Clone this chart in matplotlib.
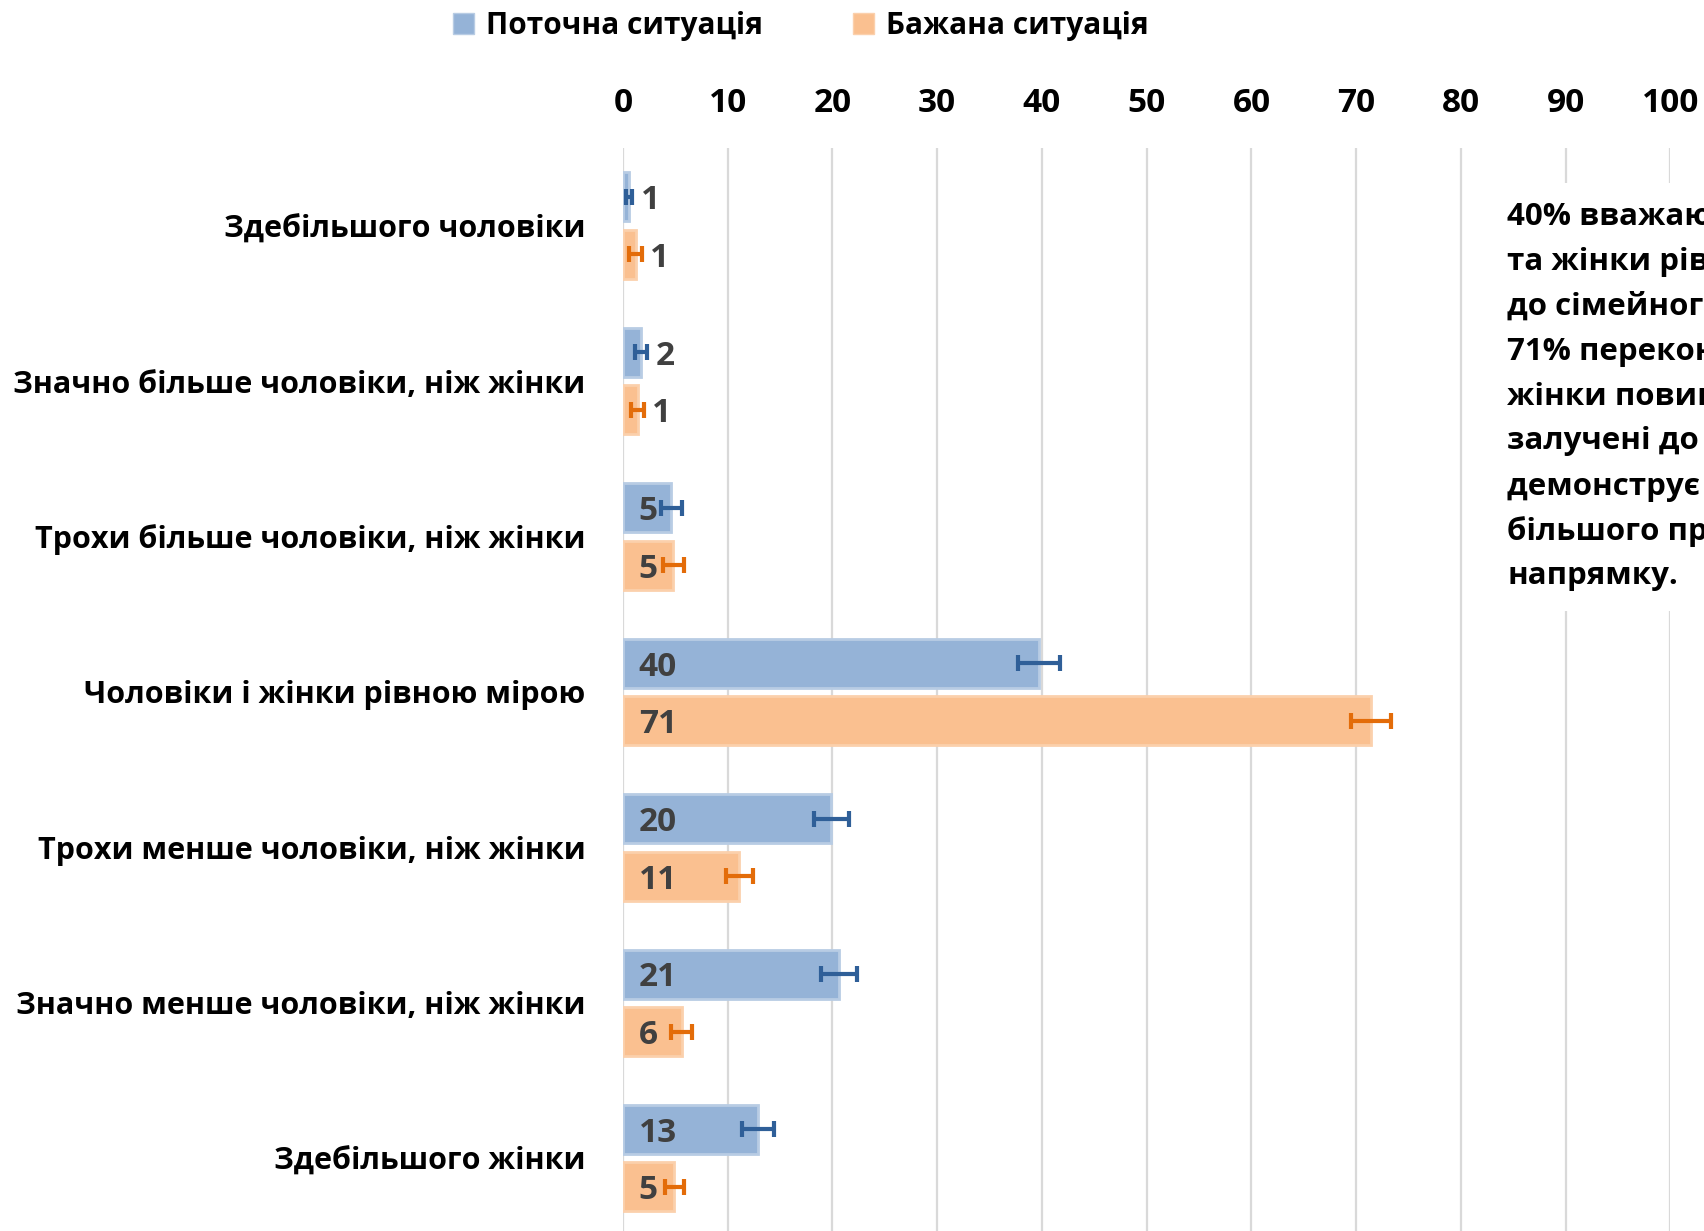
import numpy as np
import matplotlib.pyplot as plt
from matplotlib.patches import Patch, Rectangle

plt.rcParams['font.family'] = ['Open Sans', 'DejaVu Sans']
plt.rcParams['font.weight'] = 'bold'

# Дані
categories = ['Здебільшого чоловіки', 'Значно більше чоловіки, ніж жінки',
              'Трохи більше чоловіки, ніж жінки', 'Чоловіки і жінки рівною мірою',
              'Трохи менше чоловіки, ніж жінки', 'Значно менше чоловіки, ніж жінки',
              'Здебільшого жінки']
current = [0.6, 1.7, 4.6, 39.7, 19.9, 20.6, 12.9]
current_err = [0.3, 0.6, 1.0, 2.0, 1.7, 1.7, 1.5]
desired = [1.2, 1.4, 4.8, 71.4, 11.1, 5.6, 4.9]
desired_err = [0.6, 0.6, 1.0, 1.9, 1.3, 1.0, 0.9]
series_names = ['Поточна ситуація', 'Бажана ситуація']
note_lines = ['40% вважають, що чоловіки',
              'та жінки рівною мірою',
              'до сімейного бюджету,',
              '71% переконані, що',
              'жінки повинні бути',
              'залучені до нього, що',
              'демонструє потребу',
              'більшого прогресу',
              'напрямку.']

blue, blue_edge, blue_err = '#95B3D7', '#B8CCE4', '#2F5F98'
orange, orange_edge, orange_err = '#FAC090', '#FBD0AC', '#E36C09'

fig = plt.figure(figsize=(17.04, 12.31), dpi=100)
ax = fig.add_axes([0.3656, -0.004, 0.6147, 0.8838])

y = np.arange(len(categories))
h = 0.315
off = 0.185

ax.barh(y - off, current, height=h, color=blue, edgecolor=blue_edge, linewidth=2, zorder=2)
ax.barh(y + off, desired, height=h, color=orange, edgecolor=orange_edge, linewidth=2, zorder=2)
ax.errorbar(current, y - off, xerr=current_err, fmt='none', ecolor=blue_err,
            elinewidth=3, capsize=6, capthick=3, zorder=3)
ax.errorbar(desired, y + off, xerr=desired_err, fmt='none', ecolor=orange_err,
            elinewidth=3, capsize=6, capthick=3, zorder=3)

# підписи значень
for vals, errs, dy in [(current, current_err, -off), (desired, desired_err, off)]:
    for i, (v, e) in enumerate(zip(vals, errs)):
        x = 1.5 if v >= 3 else v + e + 0.8
        ax.text(x, i + dy + 0.025, f'{v:.0f}', ha='left', va='center', fontsize=24,
                fontweight='bold', color='#404040', zorder=4)

ax.set_xlim(0, 100)
ax.set_ylim(len(categories) - 0.5, -0.5)
ax.set_xticks(np.arange(0, 101, 10))
ax.xaxis.tick_top()
ax.tick_params(axis='x', length=0, pad=20, labelsize=24)
ax.tick_params(axis='y', length=0, pad=27, labelsize=22)
ax.set_yticks(y)
ax.set_yticklabels(categories)
for lab in ax.get_xticklabels() + ax.get_yticklabels():
    lab.set_fontweight('bold')
ax.grid(axis='x', color='#D9D9D9', linewidth=1.6, zorder=0)
ax.set_axisbelow(True)
for s in ax.spines.values():
    s.set_visible(False)

# легенда
handles = [Patch(facecolor=blue, edgecolor=blue_edge), Patch(facecolor=orange, edgecolor=orange_edge)]
fig.legend(handles, series_names, loc='center', bbox_to_anchor=(0.47, 0.979), ncol=2,
           frameon=False, prop={'size': 21.5, 'weight': 'bold'}, handlelength=0.7,
           handleheight=0.7, handletextpad=0.4, columnspacing=3.0)

# текстовий блок праворуч (обрізаний краєм, як в оригіналі)
fig.patches.append(Rectangle((1490 / 1704, 1 - 611 / 1231), 0.2, (611 - 183) / 1231,
                             transform=fig.transFigure, facecolor='white',
                             edgecolor='none', zorder=1))
for k, line in enumerate(note_lines):
    fig.text(1507 / 1704, 1 - (217 + k * 44.9) / 1231, line, ha='left', va='center',
             fontsize=22.5, fontweight='bold', color='black', zorder=3)

plt.savefig('out.png', dpi=100)
